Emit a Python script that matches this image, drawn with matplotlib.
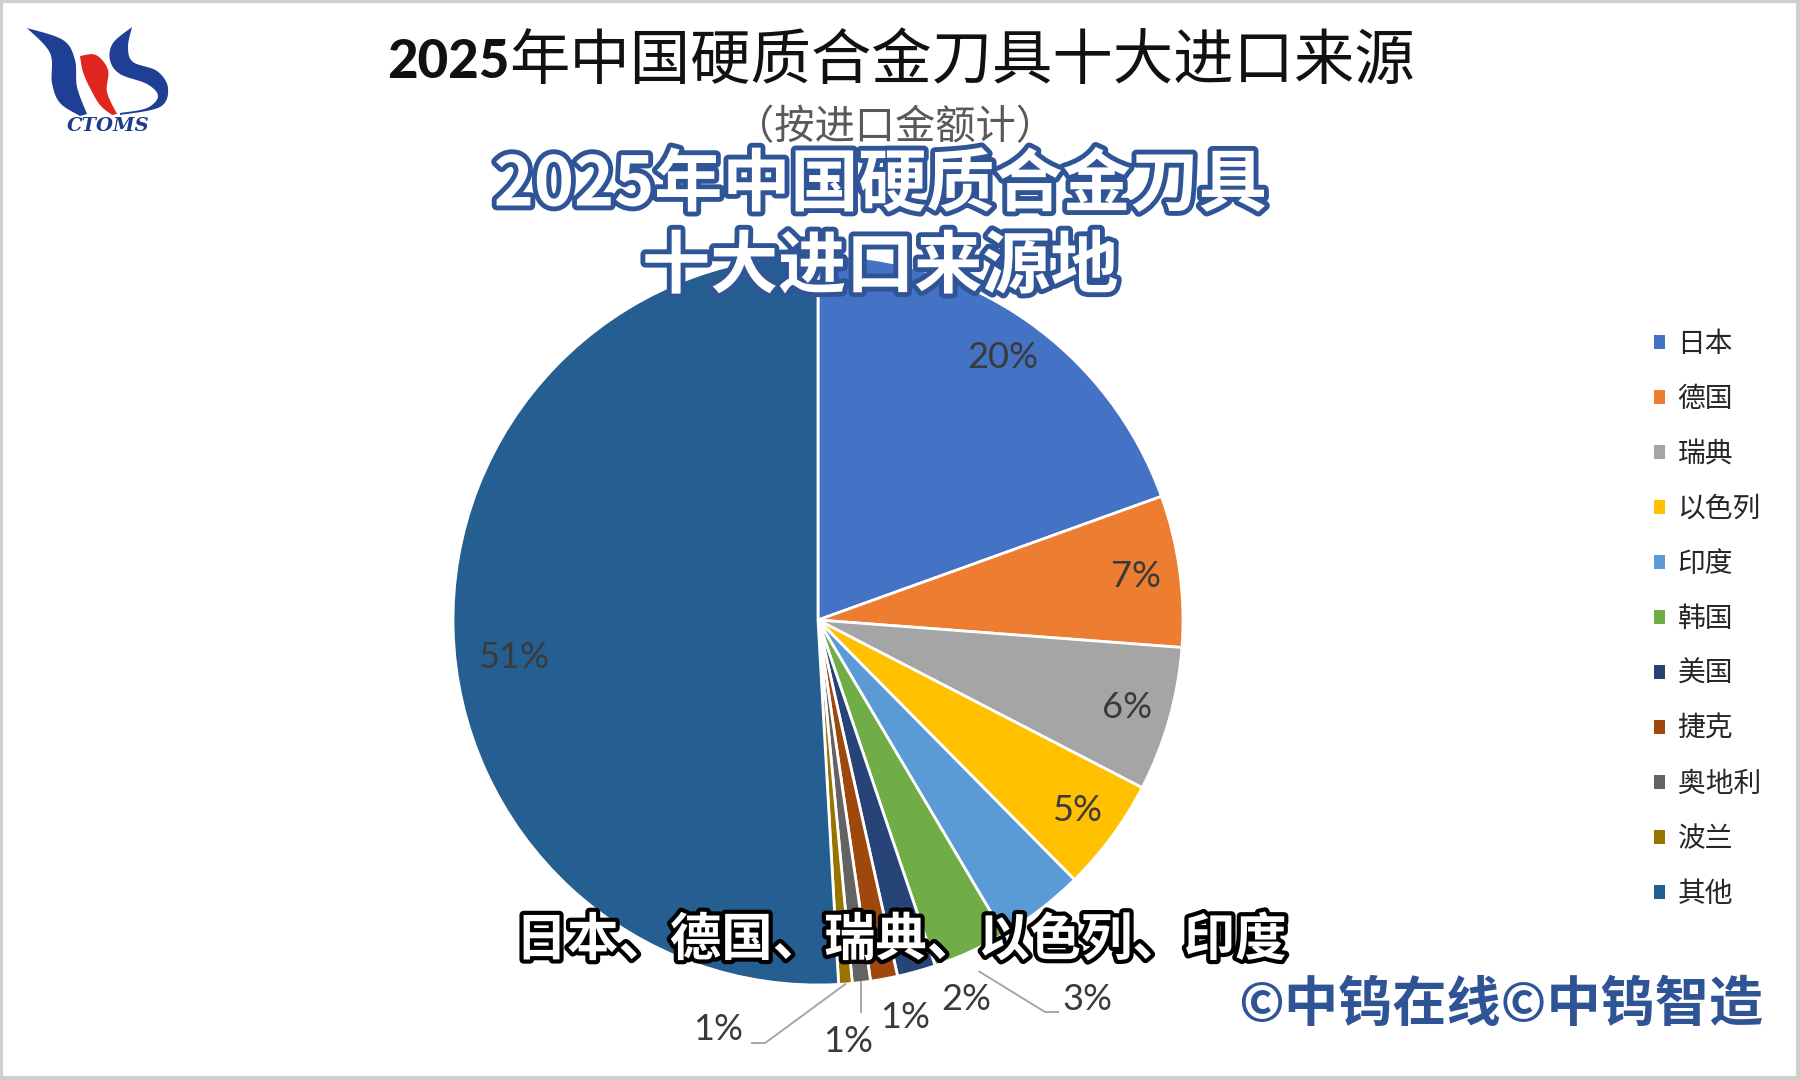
import numpy as np
import matplotlib.pyplot as plt
import matplotlib.patheffects as pe
from matplotlib.patches import Polygon, Rectangle

plt.rcParams['font.family'] = ['Noto Sans CJK SC', 'DejaVu Sans']

countries = ["日本", "德国", "瑞典", "以色列", "印度", "韩国", "美国", "捷克", "奥地利", "波兰", "其他"]
shares = [19.5, 6.7, 6.4, 5.0, 3.9, 3.3, 1.7, 1.2, 0.8, 0.6, 50.9]
colors = ['#4472C4', '#ED7D31', '#A5A5A5', '#FFC000', '#5B9BD5', '#70AD47',
          '#264478', '#9E480E', '#636363', '#997300', '#255E91']
pct_labels = ["20%", "7%", "6%", "5%", "", "3%", "2%", "1%", "1%", "1%", "51%"]

W, H = 1800, 1080
R = 365  # pie radius in px
fig = plt.figure(figsize=(18, 10.8), dpi=100)
fig.patch.set_facecolor('white')

# pie axes, square in pixels
cx, cy = 818, 620
half = 420
ax = fig.add_axes([(cx - half) / W, (H - cy - half) / H, 2 * half / W, 2 * half / H])
lim = half / R
wedges, _ = ax.pie(shares, colors=colors, startangle=90, counterclock=False,
                   wedgeprops=dict(edgecolor='white', linewidth=2))
ax.set_xlim(-lim, lim)
ax.set_ylim(-lim, lim)
ax.set_aspect('equal')
ax.axis('off')

lab_font = dict(family=['Lato', 'DejaVu Sans'], fontsize=26, color='#3A3A3A')
# labels outside the pie (x, y in radius units), the rest inside at r=0.88
outside = {5: (0.737, -1.041), 6: (0.405, -1.041), 7: (0.238, -1.088),
           8: (0.082, -1.156), 9: (-0.274, -1.123)}
inside_angle = {10: 187}
for i, w in enumerate(wedges):
    if not pct_labels[i]:
        continue
    mid = np.deg2rad(inside_angle.get(i, (w.theta1 + w.theta2) / 2))
    if i in outside:
        tx, ty = outside[i]
    else:
        r = 0.84 if i in inside_angle else 0.88
        tx, ty = r * np.cos(mid), r * np.sin(mid)
    ax.text(tx, ty, pct_labels[i], ha='center', va='center', **lab_font)

# leader lines
def leader(i, pts, r0=1.0):
    w = wedges[i]
    mid = np.deg2rad((w.theta1 + w.theta2) / 2)
    xs = [r0 * np.cos(mid)] + [p[0] for p in pts]
    ys = [r0 * np.sin(mid)] + [p[1] for p in pts]
    ax.plot(xs, ys, color='#A6A6A6', lw=1.4, clip_on=False)

leader(5, [(0.622, -1.074), (0.658, -1.074)], r0=1.06)
mid8 = np.deg2rad((wedges[8].theta1 + wedges[8].theta2) / 2)
leader(8, [(np.cos(mid8), -1.074)])
leader(9, [(-0.145, -1.159), (-0.181, -1.159)])

# legend
leg = fig.legend(wedges, countries, loc='upper left', bbox_to_anchor=(1629 / W, 1 - 304 / H),
                 frameon=False, fontsize=20, handlelength=0.4, handleheight=0.4,
                 handletextpad=0.45, labelspacing=0.9)
for t in leg.get_texts():
    t.set_color('#262626')
for h in leg.legend_handles:
    h.set_edgecolor('none')

# overlay axes in pixel coords for texts and logo
ov = fig.add_axes([0, 0, 1, 1], zorder=5)
ov.set_xlim(0, W)
ov.set_ylim(H, 0)
ov.axis('off')
ov.patch.set_alpha(0)

ov.add_patch(Rectangle((1, 1), W - 3, H - 3, fill=False, edgecolor='#CFCFCF', lw=3))

# original chart title
ov.text(387, 62, "2025", fontsize=38, fontweight='black', family=['Lato', 'DejaVu Sans'],
        color='#111111', ha='left', va='center')
ov.text(509, 62, "年中国硬质合金刀具十大进口来源", fontsize=43.5, color='#111111',
        ha='left', va='center')
ov.text(895, 128, "（按进口金额计）", fontsize=29, color='#595959', ha='center', va='center')

# overlay captions
blue_stroke = [pe.withStroke(linewidth=7, foreground='#2F5597')]
ov.text(880, 186, "2025年中国硬质合金刀具", fontsize=49, fontweight='bold', color='white',
        ha='center', va='center', path_effects=blue_stroke)
ov.text(880, 268, "十大进口来源地", fontsize=49, fontweight='bold', color='white',
        ha='center', va='center', path_effects=blue_stroke)
ov.text(901, 940, "日本、德国、瑞典、以色列、印度", fontsize=37, fontweight='bold', color='white',
        ha='center', va='center', path_effects=[pe.withStroke(linewidth=6, foreground='black')])
ov.text(1501, 1006, "©中钨在线©中钨智造", fontsize=39, fontweight='bold', color='#2E5496',
        ha='center', va='center')

# logo
def smooth(pts, n=12):
    pts = np.asarray(pts, float)
    p = np.vstack([pts[0], pts, pts[-1]])
    out = []
    for k in range(1, len(p) - 2):
        p0, p1, p2, p3 = p[k - 1], p[k], p[k + 1], p[k + 2]
        for t in np.linspace(0, 1, n, endpoint=False):
            out.append(0.5 * ((2 * p1) + (-p0 + p2) * t + (2 * p0 - 5 * p1 + 4 * p2 - p3) * t ** 2
                              + (-p0 + 3 * p1 - 3 * p2 + p3) * t ** 3))
    out.append(pts[-1])
    return np.array(out)

left_outer = [(27, 28), (63, 40), (75, 60), (77, 87), (87, 114)]
left_inner = [(80, 116), (60, 103), (52, 83), (50, 53), (27, 28)]
red_a = [(80, 56), (96, 55), (108, 70), (107, 92), (117, 114)]
red_b = [(112, 115), (100, 105), (90, 88), (83, 72), (80, 56)]
right_a = [(132, 27), (128, 47), (133, 62), (157, 71), (168, 88), (160, 107), (120, 115)]
right_b = [(120, 113), (147, 108), (158, 96), (147, 84), (120, 74), (110, 60), (113, 43), (132, 27)]
for a, b, c in [(left_outer, left_inner, '#1F3F95'), (red_a, red_b, '#E0261E'),
                (right_a, right_b, '#1F3F95')]:
    poly = np.vstack([smooth(a), smooth(b)])
    ov.add_patch(Polygon(poly, closed=True, facecolor=c, edgecolor='none'))
ov.text(108, 126, "CTOMS", fontsize=14, family='DejaVu Serif', style='italic', fontweight='bold',
        color='#1F3C8C', ha='center', va='center')

fig.savefig("out.png", dpi=100)
